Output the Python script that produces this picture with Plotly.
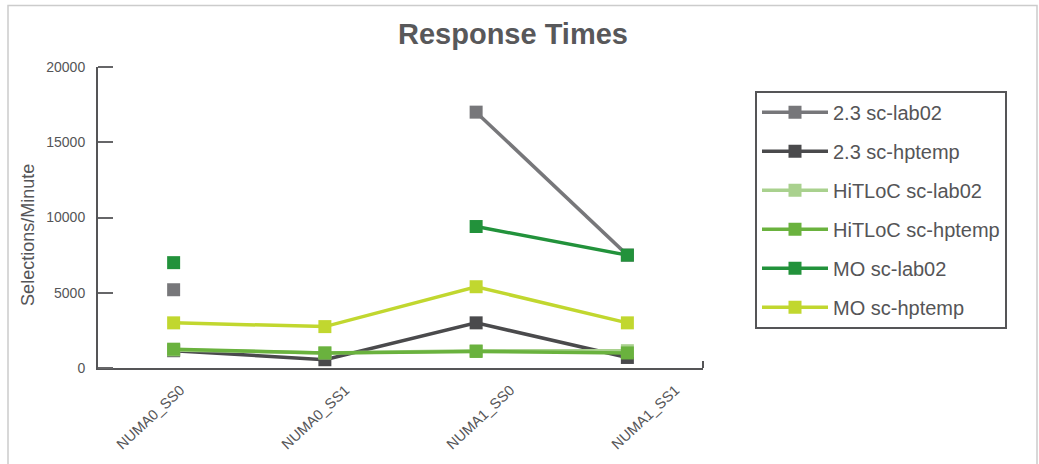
import plotly.graph_objects as go

categories = ["NUMA0_SS0", "NUMA0_SS1", "NUMA1_SS0", "NUMA1_SS1"]

s23_lab02 = [5200, None, 17000, 7500]
s23_hptemp = [1150, 550, 3000, 700]
hitloc_lab02 = [1200, 1000, 1150, 1150]
hitloc_hptemp = [1250, 1000, 1100, 1000]
mo_lab02 = [7000, None, 9400, 7500]
mo_hptemp = [3000, 2750, 5400, 3000]

series_names = ["2.3 sc-lab02", "2.3 sc-hptemp", "HiTLoC sc-lab02",
                "HiTLoC sc-hptemp", "MO sc-lab02", "MO sc-hptemp"]
series_values = [s23_lab02, s23_hptemp, hitloc_lab02, hitloc_hptemp, mo_lab02, mo_hptemp]
series_colors = ["#77777a", "#4a4a4c", "#a9d18e", "#6ab23e", "#22923b", "#c1d72f"]

yticks = [0, 5000, 10000, 15000, 20000]

FONT = "Liberation Sans, Arial, sans-serif"
TXT = "#555557"

fig = go.Figure()
for i, (name, vals, col) in enumerate(zip(series_names, series_values, series_colors)):
    fig.add_trace(go.Scatter(
        x=categories, y=vals, name=name, mode="lines+markers",
        line=dict(color=col, width=3.5),
        marker=dict(symbol="square", size=13, color=col),
        connectgaps=False, cliponaxis=False, legendgroup=f"g{i}",
    ))

# invisible helper trace carrying the category labels and y tick marks on helper axes
fig.add_trace(go.Scatter(
    x=list(range(len(categories))), y=[None] * len(categories), xaxis="x2", yaxis="y2",
    showlegend=False, hoverinfo="skip", mode="markers",
))

fig.update_layout(
    width=1039, height=464,
    margin=dict(l=98, r=336, t=67, b=94),
    paper_bgcolor="white", plot_bgcolor="white",
    font=dict(family=FONT, color=TXT),
    title=dict(text="<b>Response Times</b>", x=513 / 1039, xanchor="center",
               y=1 - 34 / 464, yanchor="middle",
               font=dict(size=29, color="#58585a", family=FONT)),
    showlegend=True,
    legend=dict(
        x=(755 - 98) / 605, xanchor="left", y=(370 - 91) / 303, yanchor="top",
        bordercolor="#555557", borderwidth=2, bgcolor="white",
        font=dict(size=20, color=TXT, family=FONT),
        tracegroupgap=10, traceorder="grouped", itemwidth=66,
    ),
    xaxis=dict(
        type="category", range=[-0.5, 3.5], showgrid=False, zeroline=False,
        showline=True, linecolor="#555557", linewidth=2,
        ticks="", showticklabels=False,
    ),
    xaxis2=dict(
        overlaying="x", anchor="y", side="bottom", range=[-0.5, 3.167],
        tickvals=list(range(len(categories))), ticktext=categories,
        showgrid=False, zeroline=False, showline=False,
        ticks="outside", ticklen=7, tickcolor="rgba(0,0,0,0)",
        tickangle=-43, tickfont=dict(size=14.5, color=TXT),
    ),
    yaxis=dict(
        range=[0, 20000], tickvals=yticks, ticktext=[str(v) for v in yticks],
        showgrid=False, zeroline=False, showline=True, linecolor="#555557", linewidth=2,
        ticks="", tickfont=dict(size=14, color=TXT), ticklabelstandoff=8,
    ),
    yaxis2=dict(
        overlaying="y", anchor="free", position=15 / 605, side="left",
        range=[0, 20000], tickvals=yticks, showticklabels=False,
        showgrid=False, zeroline=False, showline=False,
        ticks="outside", ticklen=15, tickcolor="#666668", tickwidth=2,
    ),
    annotations=[dict(
        text="Selections/Minute", textangle=-90, xref="paper", yref="paper",
        x=(28 - 98) / 605, y=(370 - 236) / 303, xanchor="center", yanchor="middle",
        showarrow=False, font=dict(size=18, color=TXT, family=FONT),
    )],
    shapes=[
        dict(type="rect", xref="paper", yref="paper",
             x0=(8 - 98) / 605, x1=(1037 - 98) / 605,
             y0=(370 - 480) / 303, y1=(370 - 5) / 303,
             line=dict(color="#cccccc", width=1.5), fillcolor="rgba(0,0,0,0)", layer="below"),
        dict(type="line", xref="paper", yref="paper", x0=1, x1=1, y0=0, y1=7 / 303,
             line=dict(color="#555557", width=2)),
    ],
)

fig.write_html("out.html")
